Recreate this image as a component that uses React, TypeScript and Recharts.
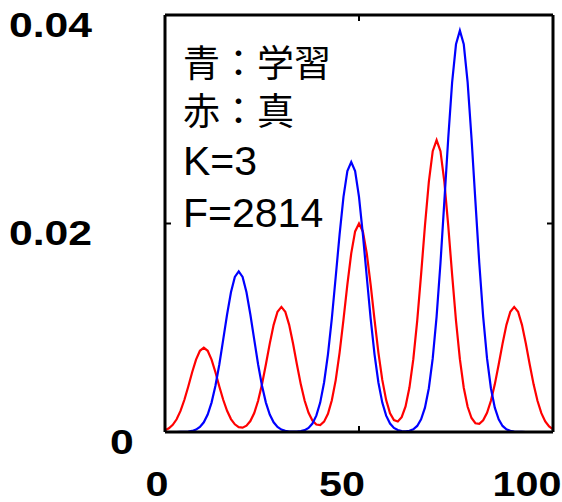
import React from "react";
import { LineChart, Line, XAxis, YAxis, Customized } from "recharts";

// 青: 学習した分布 (x = 0..100)
const blueValues = [
  0, 0, 0, 0, 0.00001, 0.00002, 0.00004, 0.0001, 0.00023, 0.00048,
  0.00093, 0.00168, 0.00282, 0.00443, 0.00648, 0.00886, 0.01127, 0.01341, 0.01488, 0.0154,
  0.01488, 0.01341, 0.01127, 0.00886, 0.00648, 0.00443, 0.00282, 0.00168, 0.00093, 0.00048,
  0.00023, 0.00011, 0.00005, 0.00003, 0.00004, 0.00008, 0.00018, 0.00039, 0.00081, 0.00157,
  0.00282, 0.00475, 0.00745, 0.0109, 0.01489, 0.01896, 0.02256, 0.02502, 0.0259, 0.02502,
  0.02256, 0.01896, 0.01489, 0.0109, 0.00745, 0.00475, 0.00282, 0.00157, 0.00081, 0.00039,
  0.00019, 0.00009, 0.00007, 0.00012, 0.00026, 0.00058, 0.00121, 0.00233, 0.0042, 0.00706,
  0.01107, 0.01621, 0.02214, 0.02818, 0.03353, 0.03719, 0.0385, 0.03719, 0.03353, 0.02818,
  0.02214, 0.01621, 0.01107, 0.00706, 0.0042, 0.00233, 0.00121, 0.00058, 0.00026, 0.00011,
  0.00004, 0.00002, 0.00001, 0, 0, 0, 0, 0, 0, 0, 0,
];

// 赤: 真の分布
const redValues = [
  0.00017, 0.00036, 0.00069, 0.00122, 0.00202, 0.00309, 0.00437, 0.00573, 0.00694, 0.00779,
  0.0081, 0.00779, 0.00694, 0.00573, 0.00437, 0.00309, 0.00203, 0.00124, 0.00074, 0.00047,
  0.00042, 0.00061, 0.00105, 0.00182, 0.00299, 0.00457, 0.00647, 0.00848, 0.01028, 0.01154,
  0.012, 0.01154, 0.01028, 0.00848, 0.00647, 0.00457, 0.003, 0.00184, 0.0011, 0.00072,
  0.00067, 0.00099, 0.00174, 0.00304, 0.00498, 0.00762, 0.01078, 0.01414, 0.01714, 0.01924,
  0.02, 0.01924, 0.01714, 0.01414, 0.01078, 0.00762, 0.005, 0.00306, 0.0018, 0.00114,
  0.00101, 0.00142, 0.00245, 0.00426, 0.00698, 0.01067, 0.01509, 0.0198, 0.024, 0.02694,
  0.028, 0.02694, 0.024, 0.0198, 0.01509, 0.01067, 0.00698, 0.00425, 0.00242, 0.00134,
  0.00084, 0.00079, 0.00113, 0.00185, 0.003, 0.00457, 0.00647, 0.00848, 0.01028, 0.01154,
  0.012, 0.01154, 0.01028, 0.00848, 0.00647, 0.00457, 0.00299, 0.00181, 0.00102, 0.00053, 0.00025,
];

const xTicks = [0, 50, 100];
const yTicks = [0, 0.02, 0.04];
const yTickLabels = ["0", "0.02", "0.04"];
const notes = ["青：学習", "赤：真", "K=3", "F=2814"];

const data = blueValues.map((b, i) => ({ x: i, blue: b, red: redValues[i] }));

// プロット枠の位置
const PLOT_TOP = 15;
const PLOT_BOTTOM = 432;
const PLOT_LEFT = 165;
const PLOT_RIGHT = 553;

const LABEL_FONT = "'Liberation Sans', Arial, Helvetica, sans-serif";
const NOTE_FONT = "'Liberation Sans', Arial, 'Noto Sans CJK JP', sans-serif";

const BottomTick = (props: any) => {
  const { x, payload } = props;
  const v = payload.value;
  return (
    <g>
      {v === 50 && (
        <line x1={x} x2={x} y1={PLOT_BOTTOM} y2={PLOT_BOTTOM - 6} stroke="#000" strokeWidth={2} />
      )}
      <text
        transform={`translate(${x - 8 - v * 0.18}, ${PLOT_BOTTOM + 64}) scale(1.18, 1)`}
        textAnchor="middle"
        fontFamily={LABEL_FONT}
        fontWeight="bold"
        fontSize={35}
        fill="#000"
      >
        {v}
      </text>
    </g>
  );
};

const TopTick = (props: any) => {
  const { x, payload } = props;
  if (payload.value !== 50) return <g />;
  return <line x1={x} x2={x} y1={PLOT_TOP} y2={PLOT_TOP + 6} stroke="#000" strokeWidth={2} />;
};

const LeftTick = (props: any) => {
  const { y, payload, index } = props;
  const v = payload.value;
  const cx = v === 0 ? 122 : 50.5;
  return (
    <g>
      {v === 0.02 && (
        <line x1={PLOT_LEFT} x2={PLOT_LEFT + 6} y1={y} y2={y} stroke="#000" strokeWidth={2} />
      )}
      <text
        transform={`translate(${cx}, ${y + 21.5}) scale(1.22, 1)`}
        textAnchor="middle"
        fontFamily={LABEL_FONT}
        fontWeight="bold"
        fontSize={35}
        fill="#000"
      >
        {yTickLabels[index]}
      </text>
    </g>
  );
};

const RightTick = (props: any) => {
  const { y, payload } = props;
  if (payload.value !== 0.02) return <g />;
  return <line x1={PLOT_RIGHT} x2={PLOT_RIGHT - 6} y1={y} y2={y} stroke="#000" strokeWidth={2} />;
};

const Notes = () => (
  <g>
    {notes.map((t, i) => (
      <text
        key={t}
        x={183}
        y={[77, 125, 175, 227][i]}
        fontFamily={NOTE_FONT}
        fontSize={i < 2 ? 37 : 41}
        fill="#000"
      >
        {t}
      </text>
    ))}
  </g>
);

const axisLine = { stroke: "#000", strokeWidth: 3 };

const App: React.FC = () => {
  return (
    <div style={{ position: "absolute", left: 0, top: 0, background: "#fff" }}>
      <LineChart
        width={562}
        height={502}
        data={data}
        margin={{ top: PLOT_TOP - 1, right: 562 - PLOT_RIGHT - 1, bottom: 0, left: 0 }}
      >
        <XAxis
          xAxisId="b"
          dataKey="x"
          type="number"
          domain={[0, 100]}
          ticks={xTicks}
          height={502 - PLOT_BOTTOM}
          axisLine={axisLine}
          tickLine={false}
          tick={<BottomTick />}
          interval={0}
        />
        <XAxis
          xAxisId="t"
          dataKey="x"
          type="number"
          orientation="top"
          domain={[0, 100]}
          ticks={xTicks}
          height={1}
          axisLine={axisLine}
          tickLine={false}
          tick={<TopTick />}
          interval={0}
        />
        <YAxis
          yAxisId="l"
          type="number"
          domain={[0, 0.04]}
          ticks={yTicks}
          width={PLOT_LEFT}
          axisLine={axisLine}
          tickLine={false}
          tick={<LeftTick />}
          interval={0}
        />
        <YAxis
          yAxisId="r"
          type="number"
          orientation="right"
          domain={[0, 0.04]}
          ticks={yTicks}
          width={1}
          axisLine={axisLine}
          tickLine={false}
          tick={<RightTick />}
          interval={0}
        />
        <Line
          xAxisId="t"
          yAxisId="r"
          type="linear"
          dataKey="red"
          stroke="#ff0000"
          strokeWidth={2.2}
          dot={false}
          isAnimationActive={false}
        />
        <Line
          xAxisId="b"
          yAxisId="l"
          type="linear"
          dataKey="blue"
          stroke="#0000ff"
          strokeWidth={2.2}
          dot={false}
          isAnimationActive={false}
        />
        <Customized component={Notes} />
      </LineChart>
    </div>
  );
};

export default App;
